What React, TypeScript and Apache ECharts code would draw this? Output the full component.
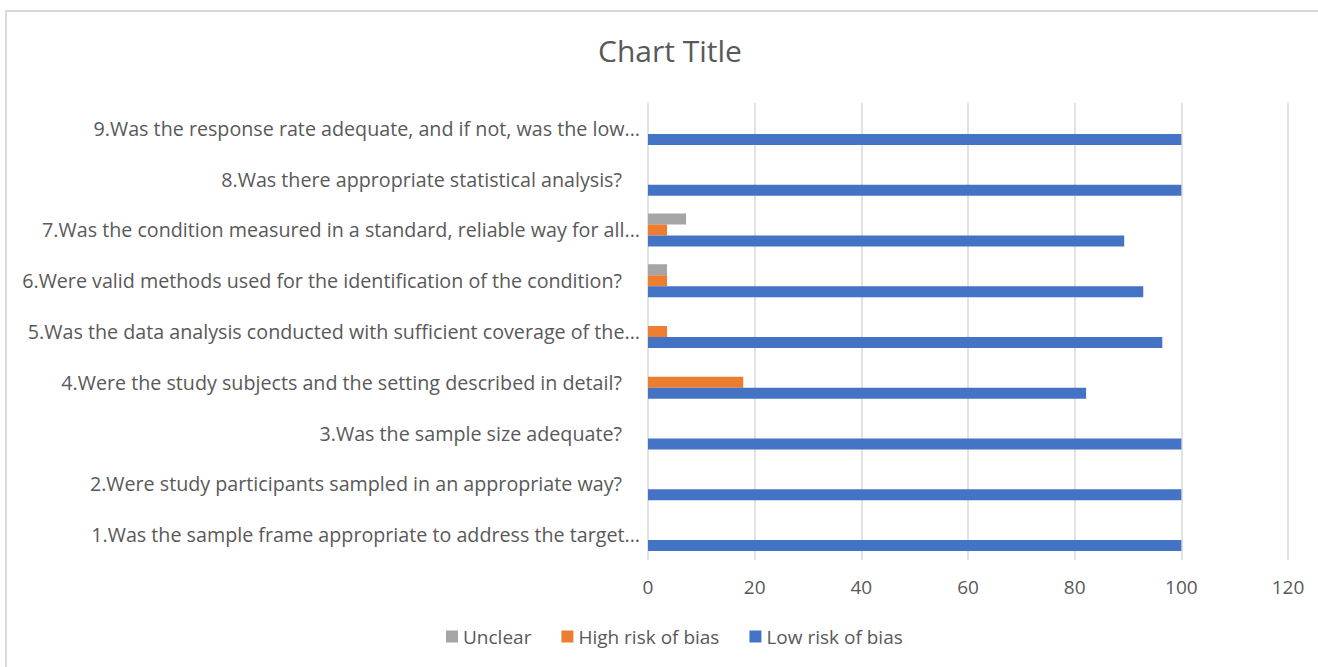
import React, { useEffect, useRef } from "react";
import * as echarts from "echarts";

// Quality-appraisal questions, bottom (1) to top (9)
const questions: string[] = [
  "1.Was the sample frame appropriate to address the target...",
  "2.Were study participants sampled in an appropriate way?",
  "3.Was the sample size adequate?",
  "4.Were the study subjects and the setting described in detail?",
  "5.Was the data analysis conducted with sufficient coverage of the...",
  "6.Were valid methods used for the identification of the condition?",
  "7.Was the condition measured in a standard, reliable way for all...",
  "8.Was there appropriate statistical analysis?",
  "9.Was the response rate adequate, and if not, was the low...",
];

// Percentages per question, same order as above
const lowRisk: number[] = [100, 100, 100, 82.14, 96.43, 92.86, 89.29, 100, 100];
const highRisk: (number | null)[] = [null, null, null, 17.86, 3.57, 3.57, 3.57, null, null];
const unclear: (number | null)[] = [null, null, null, null, null, 3.57, 7.14, null, null];

const xTicks = { min: 0, max: 120, interval: 20 };

const FONT = "'Open Sans', sans-serif";
const TEXT = "#595959";
const GRID = "#d9d9d9";
const LABEL_SIZE = 19;
const CAT_SIZE = 19.7;

export default function App() {
  const ref = useRef<HTMLDivElement>(null);

  useEffect(() => {
    if (!ref.current) return;
    const chart = echarts.init(ref.current, undefined, { renderer: "svg" });
    chart.setOption({
      animation: false,
      backgroundColor: "#ffffff",
      textStyle: { fontFamily: FONT },
      graphic: [
        {
          type: "rect",
          shape: { x: 6, y: 11, width: 1340, height: 700 },
          style: { fill: "none", stroke: "#d9d9d9", lineWidth: 2 },
          silent: true,
        },
      ],
      title: {
        text: "Chart Title",
        left: 593,
        top: 30,
        textStyle: { fontFamily: FONT, fontSize: 30, fontWeight: "normal", color: TEXT },
      },
      legend: {
        data: ["Unclear", "High risk of bias", "Low risk of bias"],
        bottom: 16,
        left: 441,
        icon: "rect",
        itemWidth: 12,
        itemHeight: 12,
        itemGap: 30,
        textStyle: { fontFamily: FONT, fontSize: LABEL_SIZE, color: TEXT },
      },
      grid: { left: 648, right: 30, top: 103, bottom: 107, containLabel: false },
      xAxis: {
        type: "value",
        min: xTicks.min,
        max: xTicks.max,
        interval: xTicks.interval,
        axisLine: { show: false },
        axisTick: { show: false },
        splitLine: { show: true, lineStyle: { color: GRID, width: 1.5 } },
        axisLabel: { fontFamily: FONT, fontSize: LABEL_SIZE, color: TEXT, margin: 17 },
      },
      yAxis: {
        type: "category",
        data: questions,
        axisLine: { show: false },
        axisTick: { show: false },
        axisLabel: {
          fontFamily: FONT,
          fontSize: CAT_SIZE,
          color: TEXT,
          margin: 8,
          formatter: (v: string) => (v.endsWith("?") ? `{q|${v}}` : `{e|${v}}`),
          rich: {
            q: { fontFamily: FONT, fontSize: CAT_SIZE, color: TEXT, padding: [0, 18, 0, 0] },
            e: { fontFamily: FONT, fontSize: CAT_SIZE, color: TEXT },
          },
        },
      },
      // Horizontal bars stack top-to-bottom in series order: grey, orange, blue
      series: [
        {
          name: "Unclear",
          type: "bar",
          data: unclear,
          barWidth: 11,
          barGap: "0%",
          itemStyle: { color: "#a5a5a5" },
        },
        {
          name: "High risk of bias",
          type: "bar",
          data: highRisk,
          barWidth: 11,
          barGap: "0%",
          itemStyle: { color: "#ed7d31" },
        },
        {
          name: "Low risk of bias",
          type: "bar",
          data: lowRisk,
          barWidth: 11,
          barGap: "0%",
          itemStyle: { color: "#4472c4" },
        },
      ],
    });
    return () => chart.dispose();
  }, []);

  return (
    <div
      ref={ref}
      style={{ position: "fixed", left: 0, top: 0, width: 1318, height: 667 }}
    />
  );
}
